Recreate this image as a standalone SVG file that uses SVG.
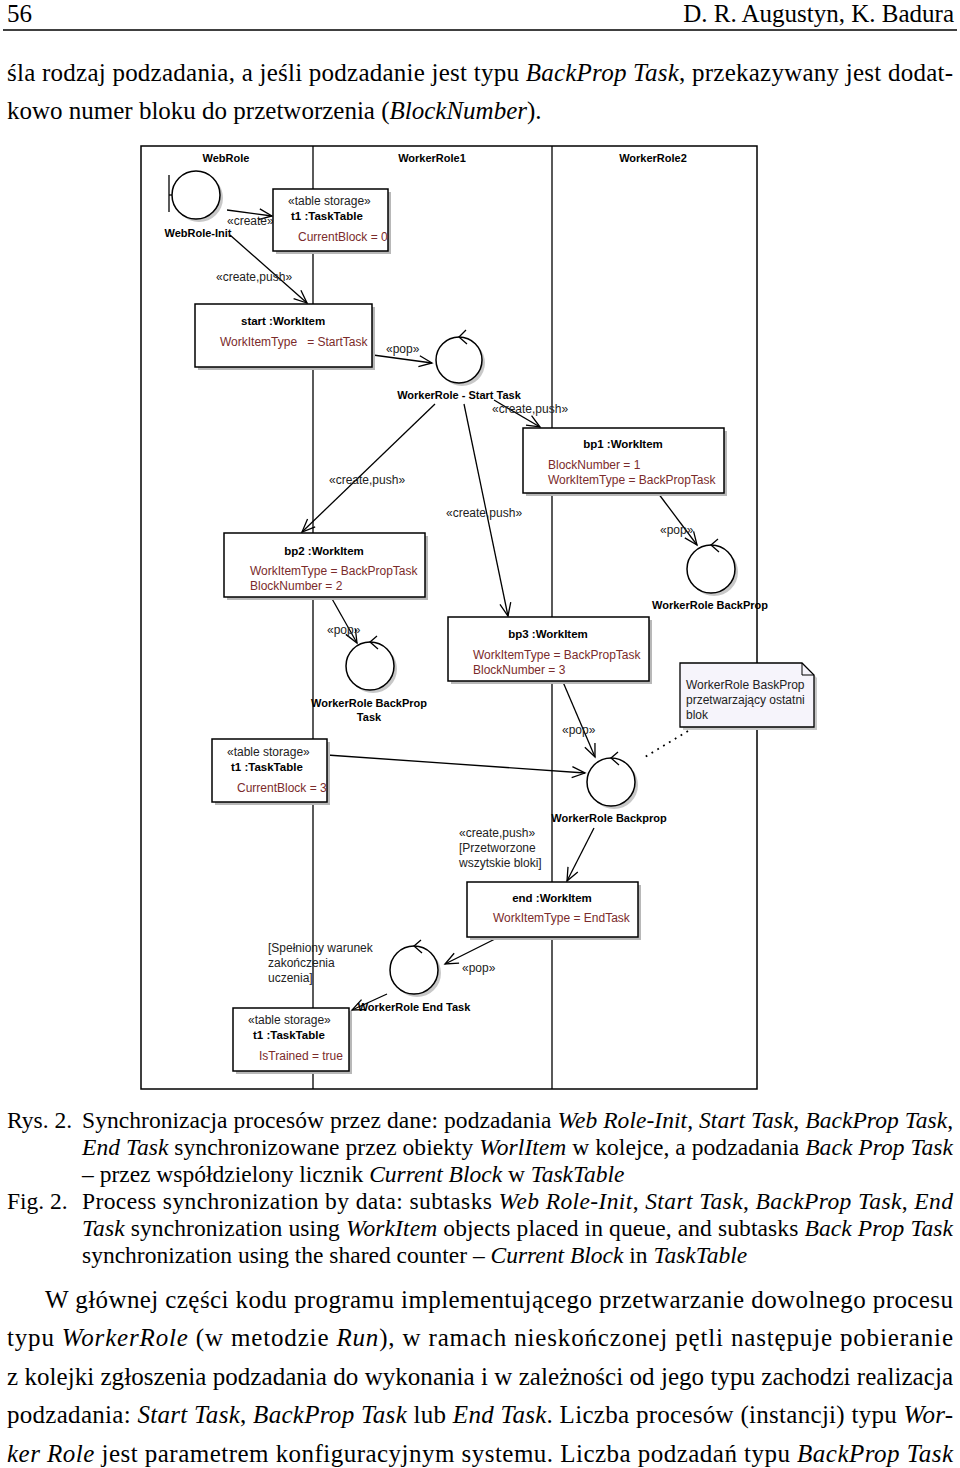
<svg xmlns="http://www.w3.org/2000/svg" width="960" height="1468" viewBox="0 0 960 1468">
<style>
.bd{font-family:"Liberation Serif","Times New Roman",serif;font-size:25px;fill:#000}
.cp{font-family:"Liberation Serif","Times New Roman",serif;font-size:23.5px;fill:#000}
.it{font-style:italic}
.lb{font-family:"Liberation Sans",Arial,sans-serif;font-weight:bold;font-size:11px;fill:#000}
.ti{font-family:"Liberation Sans",Arial,sans-serif;font-weight:bold;font-size:11.5px;fill:#000}
.st{font-family:"Liberation Sans",Arial,sans-serif;font-size:12px;fill:#222}
.at{font-family:"Liberation Sans",Arial,sans-serif;font-size:12px;fill:#7b2b2b}
.box{fill:#fff;stroke:#000;stroke-width:1.5}
.sh{fill:#b8b8b8}
.ln{fill:none;stroke:#000;stroke-width:1.3}
.ar{fill:none;stroke:#000;stroke-width:1.3;marker-end:url(#oa)}
.cc{fill:#fff;stroke:#000;stroke-width:1.5}
</style>
<defs>
<marker id="oa" viewBox="-14 -8 16 16" markerWidth="16" markerHeight="16" refX="0" refY="0" orient="auto" markerUnits="userSpaceOnUse">
<path d="M-13,-5.5 L0,0 L-13,5.5" fill="none" stroke="#000" stroke-width="1.3"/>
</marker>
</defs>
<rect width="960" height="1468" fill="#fff"/>

<g id="page-header">
<text class="bd" x="7" y="22">56</text>
<text class="bd" x="954" y="22" text-anchor="end">D. R. Augustyn, K. Badura</text>
<line x1="3" y1="30" x2="957" y2="30" stroke="#000" stroke-width="1.6"/>
<text class="bd" x="7" y="81" textLength="946" lengthAdjust="spacing">śla rodzaj podzadania, a jeśli podzadanie jest typu <tspan class="it">BackProp Task</tspan>, przekazywany jest dodat-</text>
<text class="bd" x="7" y="119">kowo numer bloku do przetworzenia (<tspan class="it">BlockNumber</tspan>).</text>
</g>

<g id="frame">
<rect x="141" y="146" width="616" height="943" fill="none" stroke="#000" stroke-width="1.5"/>
<line x1="313" y1="146" x2="313" y2="1089" stroke="#000" stroke-width="1.3"/>
<line x1="552" y1="146" x2="552" y2="1089" stroke="#000" stroke-width="1.3"/>
<text class="lb" x="226" y="162" text-anchor="middle">WebRole</text>
<text class="lb" x="432" y="162" text-anchor="middle">WorkerRole1</text>
<text class="lb" x="653" y="162" text-anchor="middle">WorkerRole2</text>
</g>

<g id="connectors">
<line class="ar" x1="227" y1="210" x2="272" y2="216"/>
<line class="ar" x1="230" y1="235" x2="307" y2="303"/>
<line class="ar" x1="373" y1="355" x2="432" y2="363"/>
<line class="ar" x1="494" y1="400" x2="540" y2="427"/>
<line class="ar" x1="435" y1="404" x2="302" y2="532"/>
<line class="ar" x1="464" y1="404" x2="508" y2="616"/>
<line class="ar" x1="658" y1="493" x2="697" y2="545"/>
<line class="ar" x1="331" y1="597" x2="357" y2="643"/>
<line class="ar" x1="327" y1="755" x2="585" y2="773"/>
<line class="ar" x1="563" y1="682" x2="595" y2="757"/>
<line class="ar" x1="594" y1="828" x2="567" y2="881"/>
<line class="ar" x1="497" y1="938" x2="445" y2="964"/>
<line class="ar" x1="387" y1="994" x2="352" y2="1010"/>
<line x1="688" y1="731" x2="645" y2="757" stroke="#000" stroke-width="1.8" stroke-dasharray="1.8 5"/>
<text class="st" x="227" y="225">«create»</text>
<text class="st" x="216" y="281">«create,push»</text>
<text class="st" x="386" y="353">«pop»</text>
<text class="st" x="492" y="413">«create,push»</text>
<text class="st" x="329" y="484">«create,push»</text>
<text class="st" x="446" y="517">«create,push»</text>
<text class="st" x="660" y="534">«pop»</text>
<text class="st" x="327" y="634">«pop»</text>
<text class="st" x="562" y="734">«pop»</text>
<text class="st" x="459" y="837">«create,push»</text>
<text class="st" x="459" y="852">[Przetworzone</text>
<text class="st" x="459" y="867">wszytskie bloki]</text>
<text class="st" x="462" y="972">«pop»</text>
<text class="st" x="268" y="952">[Spełniony warunek</text>
<text class="st" x="268" y="967">zakończenia</text>
<text class="st" x="268" y="982">uczenia]</text>
</g>

<g id="webrole-init">
<circle cx="199" cy="198" r="24" fill="#c8c8c8"/>
<circle class="cc" cx="196" cy="195" r="24"/>
<line class="ln" x1="169" y1="175" x2="169" y2="212" stroke-width="1.5"/>
<line class="ln" x1="169" y1="195" x2="172" y2="195" stroke-width="1.5"/>
<text class="lb" x="198" y="237" text-anchor="middle">WebRole-Init</text>
</g>

<g id="t1-taskTable-0">
<rect class="sh" x="276" y="192" width="115" height="62"/>
<rect class="box" x="273" y="189" width="115" height="62"/>
<text class="st" x="288" y="205">«table storage»</text>
<text class="ti" x="291" y="220">t1  :TaskTable</text>
<text class="at" x="298" y="241">CurrentBlock = 0</text>
</g>

<g id="start-workitem">
<rect class="sh" x="198" y="307" width="177" height="63"/>
<rect class="box" x="195" y="304" width="177" height="63"/>
<text class="ti" x="241" y="325">start :WorkItem</text>
<text class="at" x="220" y="346" xml:space="preserve">WorkItemType   = StartTask</text>
</g>

<g id="start-task">
<circle cx="462" cy="363" r="23" fill="#c8c8c8"/>
<circle class="cc" cx="459" cy="360" r="23"/>
<path class="ln" d="M466,330 L459,337 L467,344"/>
<text class="lb" x="459" y="399" text-anchor="middle">WorkerRole - Start Task</text>
</g>

<g id="bp1-workitem">
<rect class="sh" x="526" y="431" width="201" height="65"/>
<rect class="box" x="523" y="428" width="201" height="65"/>
<text class="ti" x="623" y="448" text-anchor="middle">bp1 :WorkItem</text>
<text class="at" x="548" y="469">BlockNumber = 1</text>
<text class="at" x="548" y="484">WorkItemType = BackPropTask</text>
</g>

<g id="backprop-right">
<circle cx="714" cy="572" r="24" fill="#c8c8c8"/>
<circle class="cc" cx="711" cy="569" r="24"/>
<path class="ln" d="M718,539 L711,545 L719,552"/>
<text class="lb" x="710" y="609" text-anchor="middle">WorkerRole BackProp</text>
</g>

<g id="bp2-workitem">
<rect class="sh" x="227" y="536" width="201" height="64"/>
<rect class="box" x="224" y="533" width="201" height="64"/>
<text class="ti" x="324" y="555" text-anchor="middle">bp2 :WorkItem</text>
<text class="at" x="250" y="575">WorkItemType = BackPropTask</text>
<text class="at" x="250" y="590">BlockNumber = 2</text>
</g>

<g id="backprop-task">
<circle cx="373" cy="669" r="24" fill="#c8c8c8"/>
<circle class="cc" cx="370" cy="666" r="24"/>
<path class="ln" d="M377,636 L370,642 L378,649"/>
<text class="lb" x="369" y="707" text-anchor="middle">WorkerRole BackProp</text>
<text class="lb" x="369" y="721" text-anchor="middle">Task</text>
</g>

<g id="t1-taskTable-3">
<rect class="sh" x="215" y="742" width="115" height="63"/>
<rect class="box" x="212" y="739" width="115" height="63"/>
<text class="st" x="227" y="756">«table storage»</text>
<text class="ti" x="231" y="771">t1  :TaskTable</text>
<text class="at" x="237" y="792">CurrentBlock = 3</text>
</g>

<g id="bp3-workitem">
<rect class="sh" x="451" y="620" width="201" height="64"/>
<rect class="box" x="448" y="617" width="201" height="64"/>
<text class="ti" x="548" y="638" text-anchor="middle">bp3 :WorkItem</text>
<text class="at" x="473" y="659">WorkItemType = BackPropTask</text>
<text class="at" x="473" y="674">BlockNumber = 3</text>
</g>

<g id="note">
<path d="M683,666 H805 L817,678 V730 H683 Z" fill="#c8c8c8"/>
<path d="M680,663 H802 L814,675 V727 H680 Z" fill="#f6f4fb" stroke="#000" stroke-width="1.3"/>
<path d="M802,663 V675 H814" fill="none" stroke="#000" stroke-width="1"/>
<text class="st" x="686" y="689">WorkerRole BaskProp</text>
<text class="st" x="686" y="704">przetwarzający ostatni</text>
<text class="st" x="686" y="719">blok</text>
</g>

<g id="backprop-last">
<circle cx="614" cy="785" r="24" fill="#c8c8c8"/>
<circle class="cc" cx="611" cy="782" r="24"/>
<path class="ln" d="M618,752 L611,758 L619,765"/>
<text class="lb" x="609" y="822" text-anchor="middle">WorkerRole Backprop</text>
</g>

<g id="end-workitem">
<rect class="sh" x="470" y="885" width="171" height="55"/>
<rect class="box" x="467" y="882" width="171" height="55"/>
<text class="ti" x="552" y="902" text-anchor="middle">end :WorkItem</text>
<text class="at" x="493" y="922">WorkItemType = EndTask</text>
</g>

<g id="end-task">
<circle cx="417" cy="973" r="24" fill="#c8c8c8"/>
<circle class="cc" cx="414" cy="970" r="24"/>
<path class="ln" d="M421,940 L414,946 L422,953"/>
<text class="lb" x="414" y="1011" text-anchor="middle">WorkerRole End Task</text>
</g>

<g id="t1-taskTable-trained">
<rect class="sh" x="236" y="1011" width="116" height="63"/>
<rect class="box" x="233" y="1008" width="116" height="63"/>
<text class="st" x="248" y="1024">«table storage»</text>
<text class="ti" x="253" y="1039">t1  :TaskTable</text>
<text class="at" x="259" y="1060">IsTrained = true</text>
</g>

<g id="caption">
<text class="cp" x="7" y="1128">Rys. 2.</text>
<text class="cp" x="82" y="1128" textLength="871" lengthAdjust="spacing">Synchronizacja procesów przez dane: podzadania <tspan class="it">Web Role-Init</tspan>, <tspan class="it">Start Task</tspan>, <tspan class="it">BackProp Task</tspan>,</text>
<text class="cp" x="82" y="1155" textLength="871" lengthAdjust="spacing"><tspan class="it">End Task</tspan> synchronizowane przez obiekty <tspan class="it">WorlItem</tspan> w kolejce, a podzadania <tspan class="it">Back Prop Task</tspan></text>
<text class="cp" x="82" y="1182">– przez współdzielony licznik <tspan class="it">Current Block</tspan> w <tspan class="it">TaskTable</tspan></text>
<text class="cp" x="7" y="1209">Fig. 2.</text>
<text class="cp" x="82" y="1209" textLength="871" lengthAdjust="spacing">Process synchronization by data: subtasks <tspan class="it">Web Role-Init</tspan>, <tspan class="it">Start Task</tspan>, <tspan class="it">BackProp Task</tspan>, <tspan class="it">End</tspan></text>
<text class="cp" x="82" y="1236" textLength="871" lengthAdjust="spacing"><tspan class="it">Task</tspan> synchronization using <tspan class="it">WorkItem</tspan> objects placed in queue, and subtasks <tspan class="it">Back Prop Task</tspan></text>
<text class="cp" x="82" y="1263">synchronization using the shared counter – <tspan class="it">Current Block</tspan> in <tspan class="it">TaskTable</tspan></text>
</g>

<g id="body-text">
<text class="bd" x="45" y="1308" textLength="908" lengthAdjust="spacing">W głównej części kodu programu implementującego przetwarzanie dowolnego procesu</text>
<text class="bd" x="7" y="1346" textLength="946" lengthAdjust="spacing">typu <tspan class="it">WorkerRole</tspan> (w metodzie <tspan class="it">Run</tspan>), w ramach nieskończonej pętli następuje pobieranie</text>
<text class="bd" x="7" y="1385" textLength="946" lengthAdjust="spacing">z kolejki zgłoszenia podzadania do wykonania i w zależności od jego typu zachodzi realizacja</text>
<text class="bd" x="7" y="1423" textLength="946" lengthAdjust="spacing">podzadania: <tspan class="it">Start Task</tspan>, <tspan class="it">BackProp Task</tspan> lub <tspan class="it">End Task</tspan>. Liczba procesów (instancji) typu <tspan class="it">Wor-</tspan></text>
<text class="bd" x="7" y="1462" textLength="946" lengthAdjust="spacing"><tspan class="it">ker Role</tspan> jest parametrem konfiguracyjnym systemu. Liczba podzadań typu <tspan class="it">BackProp Task</tspan></text>
</g>
</svg>
